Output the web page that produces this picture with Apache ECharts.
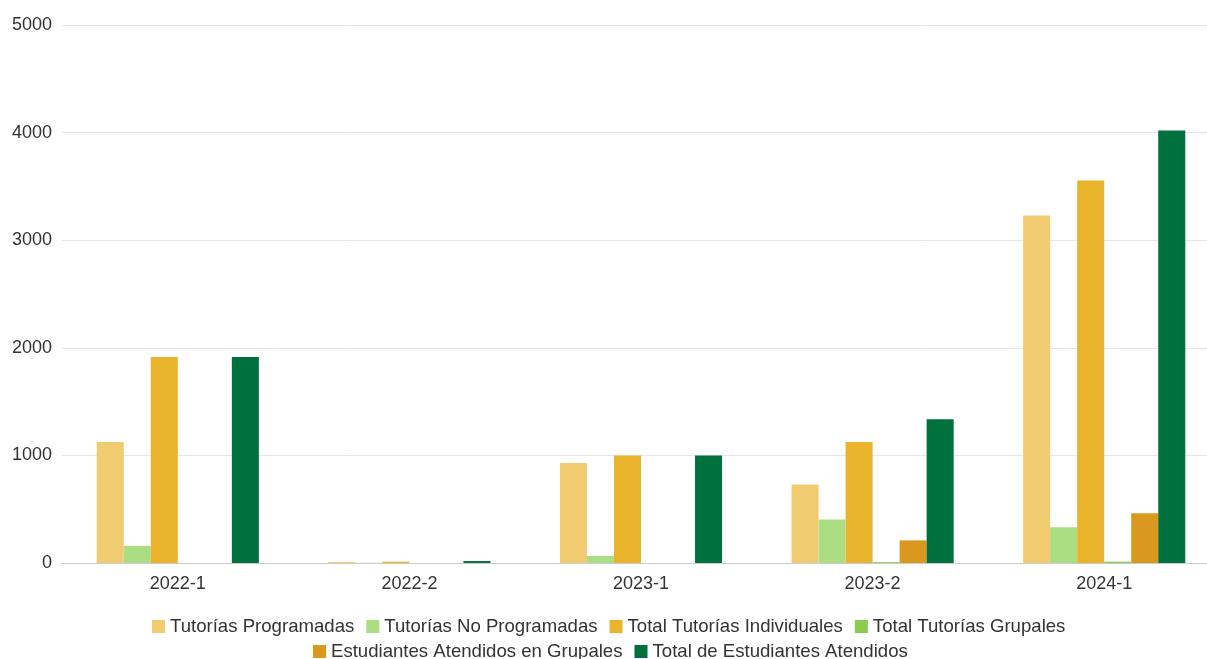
<!DOCTYPE html>
<html>
<head>
<meta charset="utf-8">
<script src="https://cdn.jsdelivr.net/npm/echarts@6/dist/echarts.min.js"></script>
<style>html,body{margin:0;padding:0;background:#fff}#c{width:1207px;height:659px}</style>
</head>
<body>
<div id="c"></div>
<script>
const categories = ['2022-1', '2022-2', '2023-1', '2023-2', '2024-1'];
const seriesNames = ['Tutorías Programadas', 'Tutorías No Programadas', 'Total Tutorías Individuales', 'Total Tutorías Grupales', 'Estudiantes Atendidos en Grupales', 'Total de Estudiantes Atendidos'];
const tutoriasProgramadas = [1125, 10, 930, 730, 3230];
const tutoriasNoProgramadas = [160, 2, 66, 405, 332];
const totalIndividuales = [1915, 12, 1000, 1125, 3555];
const totalGrupales = [0, 0, 0, 8, 12];
const estudiantesGrupales = [0, 0, 0, 210, 462];
const totalEstudiantes = [1915, 18, 1000, 1335, 4020];
const colors = ['#F1CB6F', '#ABDE83', '#EAB32C', '#8BCB50', '#DA981F', '#00703C'];
const yTicks = [0, 1000, 2000, 3000, 4000, 5000];

const values = [tutoriasProgramadas, tutoriasNoProgramadas, totalIndividuales, totalGrupales, estudiantesGrupales, totalEstudiantes];
const font = 'Liberation Sans, Arial, sans-serif';
const legendBase = {
  itemWidth: 13, itemHeight: 13, itemGap: 12, icon: 'rect', orient: 'horizontal',
  textStyle: { fontSize: 18.6, color: '#333', fontFamily: font }
};
const chart = echarts.init(document.getElementById('c'));
chart.setOption({
  animation: false,
  color: colors,
  textStyle: { fontFamily: font },
  grid: { left: 62, width: 1158, top: 25, height: 538, containLabel: false, outerBoundsMode: 'none' },
  legend: [
    Object.assign({}, legendBase, { left: 147, top: 612, data: seriesNames.slice(0, 4) }),
    Object.assign({}, legendBase, { left: 308, top: 637, data: seriesNames.slice(4) })
  ],
  xAxis: {
    type: 'category', data: categories,
    axisLine: { lineStyle: { color: '#ccc' } },
    axisTick: { lineStyle: { color: '#ccc' } },
    axisLabel: { fontSize: 18, color: '#333', margin: 12 }
  },
  yAxis: {
    type: 'value', min: yTicks[0], max: yTicks[yTicks.length - 1], interval: 1000,
    axisLabel: { fontSize: 18, color: '#333', margin: 10, formatter: v => String(v) },
    splitLine: { lineStyle: { color: '#e6e6e6' } }
  },
  series: seriesNames.map((n, i) => ({
    name: n, type: 'bar', data: values[i], barGap: '0%', barCategoryGap: '30%'
  }))
});
</script>
</body>
</html>
